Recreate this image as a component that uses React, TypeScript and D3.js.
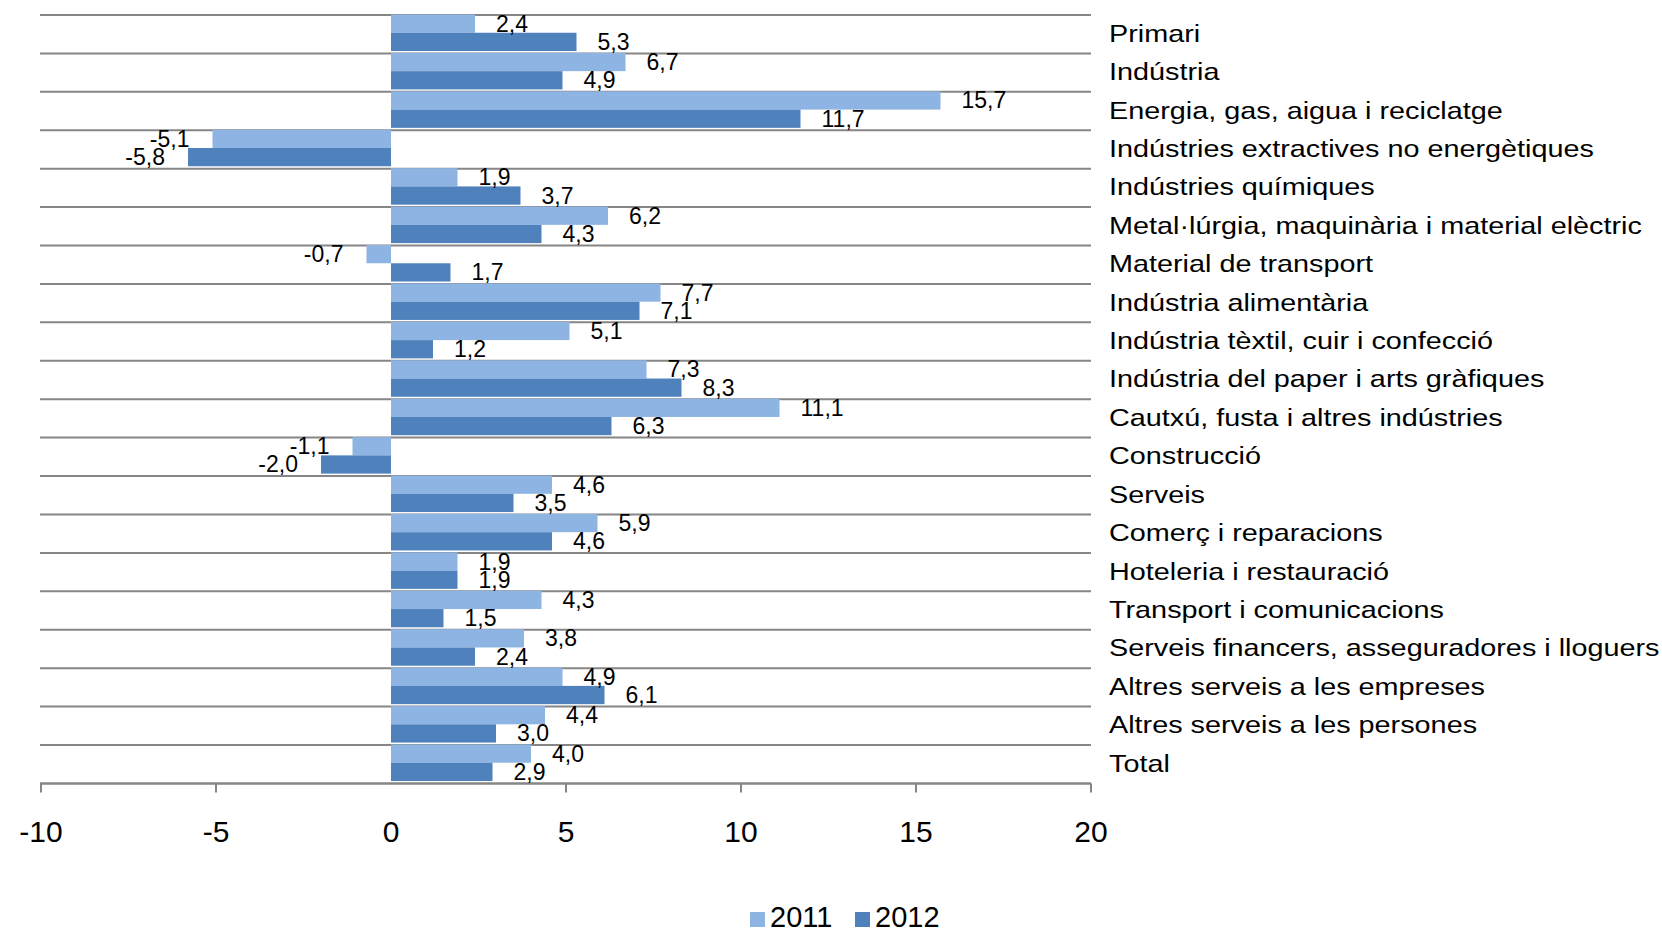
import React from "react";
import * as d3 from "d3";

const categories = [
  "Primari",
  "Indústria",
  "Energia, gas, aigua i reciclatge",
  "Indústries extractives no energètiques",
  "Indústries químiques",
  "Metal·lúrgia, maquinària i material elèctric",
  "Material de transport",
  "Indústria alimentària",
  "Indústria tèxtil, cuir i confecció",
  "Indústria del paper i arts gràfiques",
  "Cautxú, fusta i altres indústries",
  "Construcció",
  "Serveis",
  "Comerç i reparacions",
  "Hoteleria i restauració",
  "Transport i comunicacions",
  "Serveis financers, asseguradores i lloguers",
  "Altres serveis a les empreses",
  "Altres serveis a les persones",
  "Total",
];

const values2011 = [2.4, 6.7, 15.7, -5.1, 1.9, 6.2, -0.7, 7.7, 5.1, 7.3, 11.1, -1.1, 4.6, 5.9, 1.9, 4.3, 3.8, 4.9, 4.4, 4.0];
const values2012 = [5.3, 4.9, 11.7, -5.8, 3.7, 4.3, 1.7, 7.1, 1.2, 8.3, 6.3, -2.0, 3.5, 4.6, 1.9, 1.5, 2.4, 6.1, 3.0, 2.9];

const seriesNames = ["2011", "2012"];
const xTickValues = [-10, -5, 0, 5, 10, 15, 20];

const COLORS = ["#8EB4E3", "#4F81BD"];
const GRID = "#868686";
const FONT = "'Liberation Sans', Arial, sans-serif";

export default function App() {
  const W = 1662;
  const H = 930;
  const x = d3.scaleLinear().domain([-10, 20]).range([41, 1091]);
  const y = d3.scaleBand<string>().domain(categories).range([15, 783.4]).padding(0);
  const bw = y.bandwidth();
  const barH = bw * 0.475;
  const fmt = (v: number) => d3.format(".1f")(v).replace(".", ",").replace("−", "-");
  const series = [values2011, values2012];
  const plotBottom = y.range()[1];

  return (
    <svg
      width={W}
      height={H}
      style={{ position: "absolute", left: 0, top: 0, background: "#fff", display: "block" }}
      fontFamily={FONT}
    >
      <rect x={0} y={0} width={W} height={H} fill="#fff" />
      {/* horizontal gridlines at band boundaries */}
      {categories.map((c) => (
        <line key={"g" + c} x1={x(-10) - 1} x2={x(20)} y1={y(c)!} y2={y(c)!} stroke={GRID} strokeWidth={2} />
      ))}
      {/* bars */}
      {categories.map((c, i) =>
        series.map((vals, s) => {
          const v = vals[i];
          const y0 = y(c)! - 0.5 + s * barH;
          return (
            <rect
              key={"b" + s + c}
              x={Math.min(x(0), x(v))}
              y={y0}
              width={Math.abs(x(v) - x(0))}
              height={barH}
              fill={COLORS[s]}
            />
          );
        })
      )}
      {/* axis line */}
      <line x1={x(-10) - 1} x2={x(20)} y1={plotBottom} y2={plotBottom} stroke={GRID} strokeWidth={2.5} />
      {xTickValues
        .filter((t) => t !== 0)
        .map((t) => (
          <line key={"t" + t} x1={x(t)} x2={x(t)} y1={plotBottom} y2={plotBottom + 9} stroke={GRID} strokeWidth={2} />
        ))}
      {xTickValues.map((t) => (
        <text key={"tl" + t} x={x(t)} y={842} fontSize={30} textAnchor="middle" fill="#000">
          {String(t)}
        </text>
      ))}
      {/* data labels */}
      {categories.map((c, i) =>
        series.map((vals, s) => {
          const v = vals[i];
          const cy = y(c)! - 0.5 + s * barH + barH / 2;
          const lx = v >= 0 ? x(v) + 21 : x(v) - 23;
          return (
            <text
              key={"l" + s + c}
              x={lx}
              y={cy + 8}
              fontSize={23}
              textAnchor={v >= 0 ? "start" : "end"}
              fill="#000"
            >
              {fmt(v)}
            </text>
          );
        })
      )}
      {/* category labels */}
      {categories.map((c) => (
        <text
          key={"c" + c}
          transform={`translate(1109, ${y(c)! + bw / 2 + 7.5}) scale(1.2, 1)`}
          fontSize={24}
          fill="#000"
        >
          {c}
        </text>
      ))}
      {/* legend */}
      {seriesNames.map((n, s) => {
        const lx = 750 + s * 105;
        return (
          <g key={"lg" + n}>
            <rect x={lx} y={912} width={15} height={15} fill={COLORS[s]} />
            <text x={lx + 20} y={927} fontSize={29} fill="#000">
              {n}
            </text>
          </g>
        );
      })}
    </svg>
  );
}
